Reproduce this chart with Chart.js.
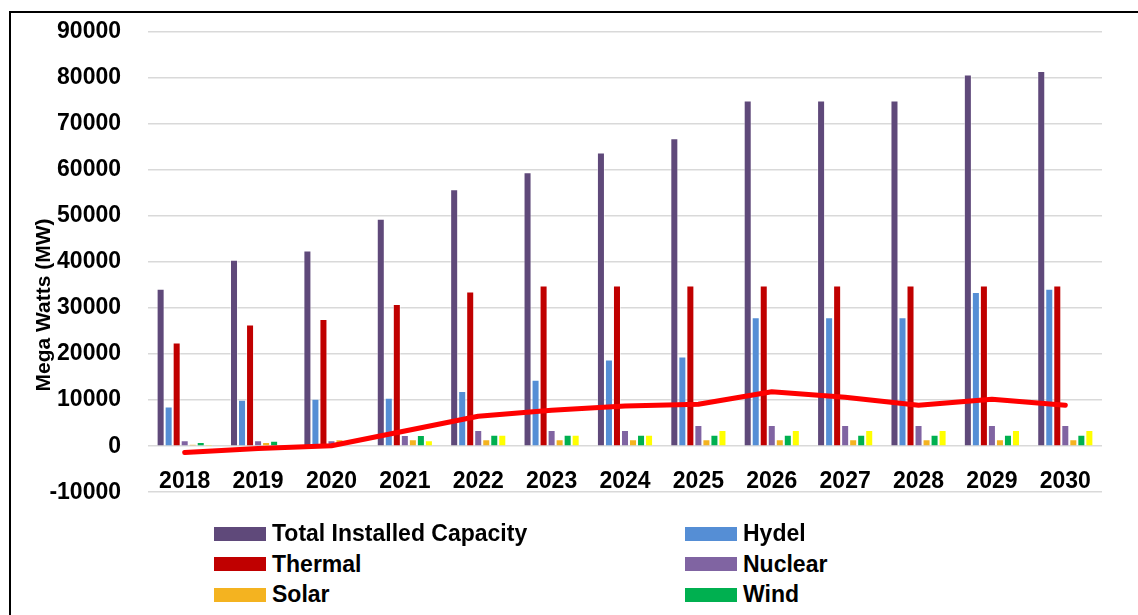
<!DOCTYPE html>
<html>
<head>
<meta charset="utf-8">
<script src="https://cdn.jsdelivr.net/npm/chart.js@4/dist/chart.umd.min.js"></script>
<style>
  html, body { margin: 0; padding: 0; background: #ffffff; }
  body { width: 1138px; height: 615px; overflow: hidden; position: relative; font-family: "Liberation Sans", Arial, sans-serif; }
  #frame { position: absolute; left: 9px; top: 11px; width: 1300px; height: 800px; border-left: 2px solid #000; border-top: 2px solid #000; box-sizing: border-box; }
  #wrap { position: absolute; left: 0; top: -9px; width: 1138px; height: 542px; }
  #legend { position: absolute; left: 0; top: 518px; width: 1138px; }
  .row { position: absolute; height: 31px; display: flex; align-items: center; font-weight: bold; font-size: 23px; color: #000; white-space: nowrap; }
  .box { width: 52px; height: 14px; margin-right: 6px; flex: none; }
</style>
</head>
<body>
<div id="frame"></div>
<div id="wrap"><canvas id="chart"></canvas></div>
<div id="legend"></div>
<script>
// Installed capacity by source, in MW
const years = ['2018', '2019', '2020', '2021', '2022', '2023', '2024', '2025', '2026', '2027', '2028', '2029', '2030'];
const totalCapacity = [34200, 40500, 42500, 49400, 55800, 59500, 63800, 66900, 75100, 75100, 75100, 80700, 81500];
const hydel = [8600, 10100, 10300, 10500, 12000, 14400, 18800, 19500, 28000, 28000, 28000, 33500, 34200];
const thermal = [22500, 26400, 27600, 30900, 33600, 34900, 34900, 34900, 34900, 34900, 34900, 34900, 34900];
const nuclear = [1300, 1300, 1300, 2400, 3500, 3500, 3500, 4600, 4600, 4600, 4600, 4600, 4600];
const solar = [400, 900, 1500, 1500, 1500, 1500, 1500, 1500, 1500, 1500, 1500, 1500, 1500];
const wind = [900, 1200, 0, 2400, 2500, 2500, 2500, 2500, 2500, 2500, 2500, 2500, 2500];
const other = [300, 0, 0, 1300, 2500, 2500, 2500, 3500, 3500, 3500, 3500, 3500, 3500];
const surplus = [-1400, -500, 100, 3300, 6500, 7800, 8700, 9100, 11800, 10600, 8900, 10200, 8900];
const yTicks = { min: -10000, max: 90000, step: 10000 };
const legendNames = ['Total Installed Capacity', 'Hydel', 'Thermal', 'Nuclear', 'Solar', 'Wind'];

const FONT = '"Liberation Sans", Arial, sans-serif';

function barSet(label, data, color) {
  return {
    type: 'bar', label, data,
    backgroundColor: color,
    borderColor: 'rgba(255,255,255,0.45)',
    borderWidth: 1,
    categoryPercentage: 0.765,
    barPercentage: 1.0,
    order: 2
  };
}

// Year labels sit just under the zero line; the axis title is drawn beside the tick labels
const axisText = {
  id: 'axisText',
  afterDraw(chart) {
    const { ctx, chartArea, scales } = chart;
    const x = scales.x, y = scales.y;
    ctx.save();
    ctx.fillStyle = '#000';
    ctx.font = 'bold 23px ' + FONT;
    ctx.textAlign = 'center';
    ctx.textBaseline = 'middle';
    const yl = y.getPixelForValue(0) + 35;
    years.forEach((yr, i) => ctx.fillText(yr, x.getPixelForValue(i), yl));
    ctx.translate(44, (chartArea.top + chartArea.bottom) / 2 + 43);
    ctx.rotate(-Math.PI / 2);
    ctx.font = 'bold 21px ' + FONT;
    ctx.fillText('Mega Watts (MW)', 0, 0);
    ctx.restore();
  }
};

const chart = new Chart(document.getElementById('chart'), {
  data: {
    labels: years,
    datasets: [
      {
        type: 'line', label: 'Surplus', data: surplus,
        borderColor: '#ff0000', backgroundColor: '#ff0000',
        borderWidth: 5, pointRadius: 0, tension: 0,
        borderCapStyle: 'round', borderJoinStyle: 'round', order: 1
      },
      barSet('Total Installed Capacity', totalCapacity, '#5f497a'),
      barSet('Hydel', hydel, '#558ed5'),
      barSet('Thermal', thermal, '#c00000'),
      barSet('Nuclear', nuclear, '#8064a2'),
      barSet('Solar', solar, '#f4b320'),
      barSet('Wind', wind, '#00b050'),
      barSet('Other', other, '#ffff00')
    ]
  },
  options: {
    responsive: true,
    maintainAspectRatio: false,
    animation: false,
    layout: { padding: { left: 0, right: 36, top: 22, bottom: 0 } },
    plugins: {
      legend: { display: false },
      tooltip: { enabled: false }
    },
    scales: {
      x: {
        display: false,
        offset: true
      },
      y: {
        min: yTicks.min, max: yTicks.max,
        border: { display: false },
        grid: { color: '#d9d9d9', lineWidth: 1.5, drawTicks: false },
        ticks: {
          stepSize: yTicks.step,
          color: '#000',
          padding: 27,
          font: { family: FONT, size: 23, weight: 'bold' },
          callback: (v) => String(v)
        },
        afterFit(scale) { scale.width = 148; }
      }
    }
  },
  plugins: [axisText]
});

// Two-column legend built from the chart's own legend items
const items = Chart.defaults.plugins.legend.labels.generateLabels(chart)
  .filter(it => legendNames.includes(it.text))
  .sort((a, b) => legendNames.indexOf(a.text) - legendNames.indexOf(b.text));
const legendEl = document.getElementById('legend');
items.forEach((it, i) => {
  const row = document.createElement('div');
  row.className = 'row';
  row.style.left = (i % 2 === 0 ? 214 : 685) + 'px';
  row.style.top = (Math.floor(i / 2) * 30.7) + 'px';
  const box = document.createElement('span');
  box.className = 'box';
  box.style.background = it.fillStyle;
  const txt = document.createElement('span');
  txt.textContent = it.text;
  row.appendChild(box);
  row.appendChild(txt);
  legendEl.appendChild(row);
});
</script>
</body>
</html>
